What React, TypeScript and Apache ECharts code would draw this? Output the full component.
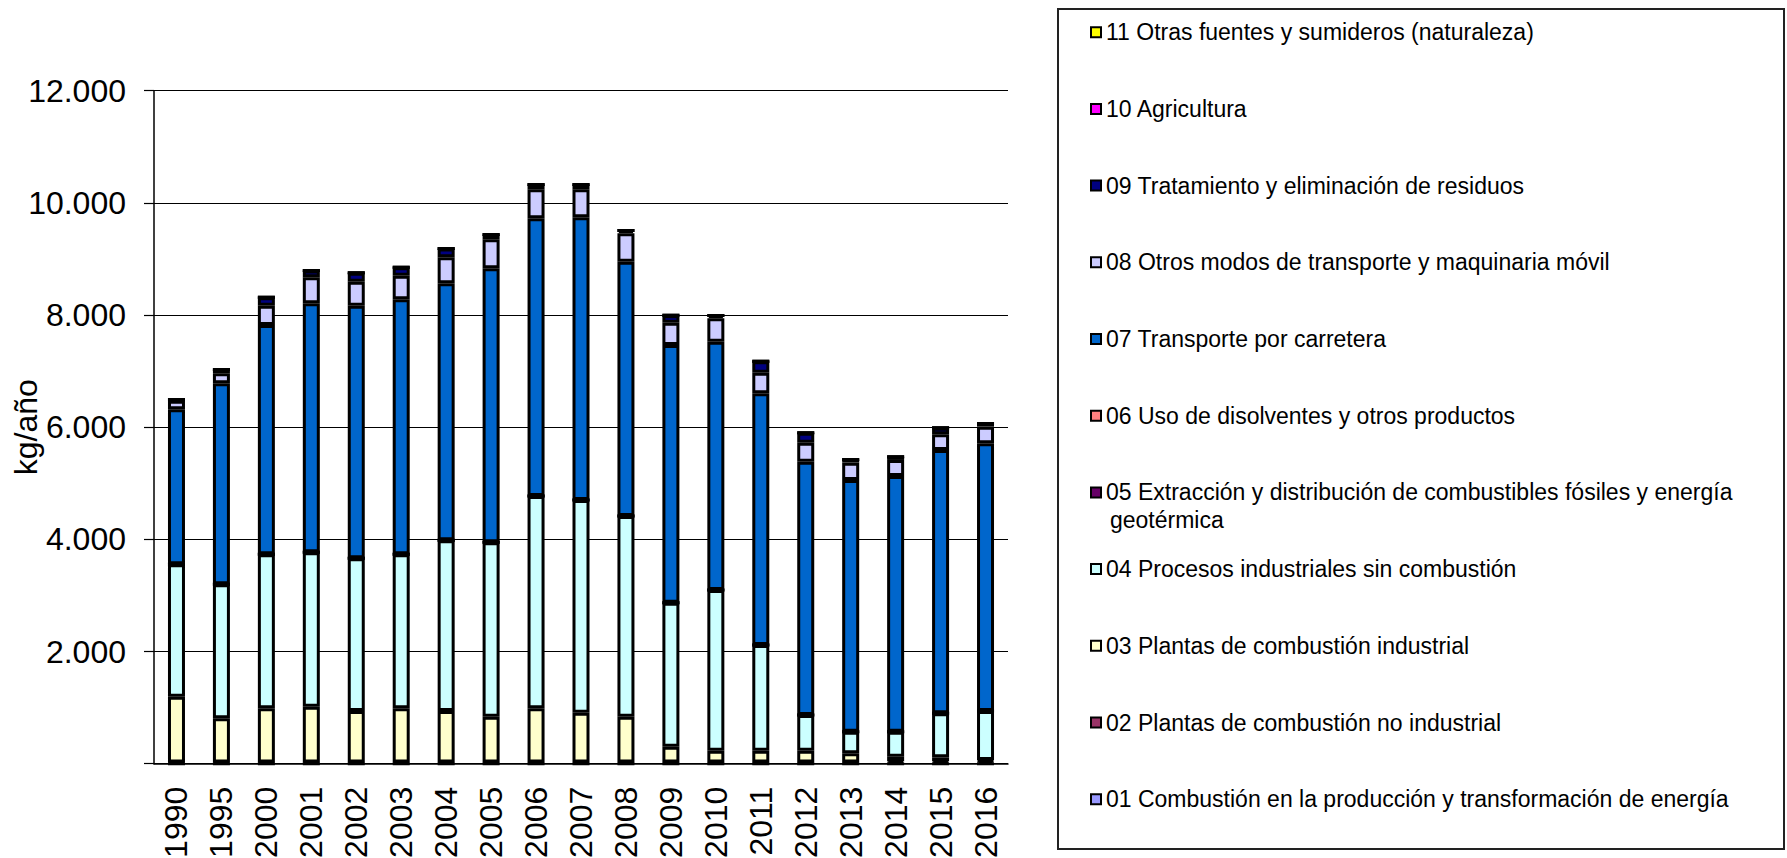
import React, { useEffect, useRef } from "react";
import * as echarts from "echarts";

const years = ["1990","1995","2000","2001","2002","2003","2004","2005","2006","2007","2008","2009","2010","2011","2012","2013","2014","2015","2016"];

const s01 = [0,0,0,0,0,0,0,0,0,0,0,0,0,0,0,0,0,0,0];
const s02 = [20,20,20,20,20,20,20,20,20,20,20,20,20,20,20,20,40,40,50];
const s03 = [1175,789,968,996,920,968,920,818,968,890,818,283,212,212,212,165,85,74,16];
const s04 = [2360,2390,2746,2754,2723,2746,3044,3110,3786,3792,3579,2568,2865,1885,636,386,446,784,874];
const s05 = [0,0,0,0,0,0,0,0,0,0,0,0,0,0,0,0,0,0,0];
const s06 = [0,0,0,0,0,0,0,0,0,0,0,0,0,0,0,0,0,0,0];
const s07 = [2764,3584,4089,4439,4504,4547,4582,4886,4951,5041,4534,4595,4428,4488,4517,4488,4559,4696,4773];
const s08 = [154,179,344,464,428,421,464,517,517,499,507,398,417,367,339,309,286,280,297];
const s09 = [22,67,152,122,157,152,157,86,87,87,50,134,51,206,175,57,55,115,57];
const s10 = [0,0,0,0,0,0,0,0,0,0,0,0,0,0,0,0,0,0,0];
const s11 = [0,0,0,0,0,0,0,0,0,0,0,0,0,0,0,0,0,0,0];

const seriesNames = [
  "01 Combustión en la producción y transformación de energía",
  "02 Plantas de combustión no industrial",
  "03 Plantas de combustión industrial",
  "04 Procesos industriales sin combustión",
  "05 Extracción y distribución de combustibles fósiles y energía geotérmica",
  "06 Uso de disolventes y otros productos",
  "07 Transporte por carretera",
  "08 Otros modos de transporte y maquinaria móvil",
  "09 Tratamiento y eliminación de residuos",
  "10 Agricultura",
  "11 Otras fuentes y sumideros (naturaleza)",
];
const seriesData = [s01, s02, s03, s04, s05, s06, s07, s08, s09, s10, s11];
const seriesColors = ["#9999FF","#993366","#FFFFCC","#CCFFFF","#660066","#FF8080","#0066CC","#CCCCFF","#000080","#FF00FF","#FFFF00"];

const yTicks = { min: 0, max: 12000, interval: 2000 };
const yName = "kg/año";
const name05Line1 = "05 Extracción y distribución de combustibles fósiles y energía";
const name05Line2 = "geotérmica";

const FONT = "'Liberation Sans', Arial, sans-serif";

function fmt(v: number): string {
  if (v === 0) return "";
  return String(v).replace(/\B(?=(\d{3})+(?!\d))/g, ".");
}

export default function App() {
  const ref = useRef<HTMLDivElement>(null);
  useEffect(() => {
    const chart = echarts.init(ref.current!, undefined, { renderer: "svg" });
    chart.setOption({
      animation: false,
      backgroundColor: "#fff",
      grid: { left: 154, right: 779, top: 90.7, bottom: 94.3, containLabel: false, outerBoundsMode: "none" },
      legend: {
        orient: "vertical",
        left: 1090,
        top: 20.7,
        padding: 0,
        itemWidth: 10,
        itemHeight: 10,
        itemGap: 53.7,
        icon: "rect",
        selectedMode: false,
        itemStyle: { borderColor: "#000", borderWidth: 2 },
        textStyle: { fontFamily: FONT, fontSize: 23, lineHeight: 23, color: "#000" },
        data: seriesNames.slice().reverse(),
        formatter: (n: string) => (n === seriesNames[4] ? name05Line1 : n),
      },
      graphic: [
        {
          type: "rect",
          shape: { x: 1058, y: 9, width: 726, height: 840 },
          style: { fill: "none", stroke: "#222", lineWidth: 2 },
          silent: true,
        },
        {
          type: "text",
          x: 1110,
          y: 520,
          style: { text: name05Line2, fontFamily: FONT, fontSize: 23, fill: "#000", verticalAlign: "middle", align: "left" },
          silent: true,
        },
      ],
      xAxis: {
        type: "category",
        data: years,
        axisLine: { lineStyle: { color: "#000", width: 1.5 } },
        axisTick: { length: 12, interval: 0, lineStyle: { color: "#000", width: 1.5 } },
        axisLabel: { rotate: 90, interval: 0, fontSize: 32, margin: 23, color: "#000", fontFamily: FONT },
      },
      yAxis: {
        type: "value",
        min: yTicks.min,
        max: yTicks.max,
        interval: yTicks.interval,
        name: yName,
        nameLocation: "middle",
        nameGap: 112,
        nameRotate: 90,
        nameMoveOverlap: false,
        nameTextStyle: { fontSize: 32, color: "#000", fontFamily: FONT },
        axisLine: { show: true, lineStyle: { color: "#000", width: 1.5 } },
        axisTick: { show: true, length: 10, lineStyle: { color: "#000", width: 1.2 } },
        splitLine: { show: true, lineStyle: { color: "#000", width: 1.2 } },
        axisLabel: { fontSize: 32, color: "#000", margin: 28, fontFamily: FONT, formatter: fmt },
      },
      series: seriesNames.map((name, i) => ({
        name,
        type: "bar",
        stack: "total",
        data: seriesData[i],
        barWidth: 17,
        itemStyle: { color: seriesColors[i], borderColor: "#000", borderWidth: 3 },
        emphasis: { disabled: true },
      })),
    });
    return () => chart.dispose();
  }, []);
  return (
    <div
      ref={ref}
      style={{ position: "fixed", left: 0, top: 0, width: 1787, height: 858, background: "#fff" }}
    />
  );
}
